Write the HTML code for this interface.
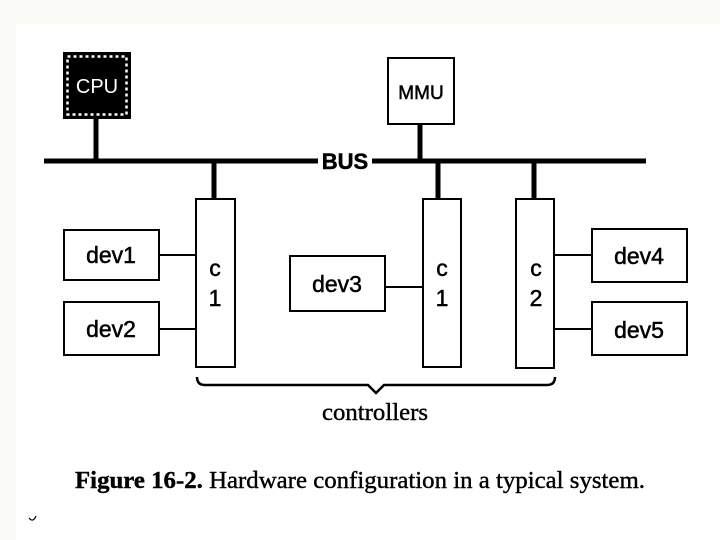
<!DOCTYPE html>
<html><head><style>html,body{margin:0;padding:0;background:#fff}svg{display:block}</style></head><body>
<svg width="720" height="540" viewBox="0 0 720 540" xmlns="http://www.w3.org/2000/svg">
<rect x="0" y="0" width="720" height="540" fill="#fbfbf8"/>
<rect x="16" y="24" width="704" height="516" fill="#fff"/>
<g stroke="#000" fill="none">
<rect x="64" y="53" width="66" height="65" fill="#000" stroke-width="2"/>
<rect x="67.5" y="56.5" width="59" height="58" stroke="#fff" stroke-width="2.5" stroke-dasharray="3 3"/>
<line x1="96" y1="118" x2="96" y2="161" stroke-width="5"/>
<rect x="388" y="58" width="66" height="66" stroke-width="2" fill="#fff"/>
<line x1="420" y1="124" x2="420" y2="161" stroke-width="5"/>
<line x1="44" y1="161" x2="318" y2="161" stroke-width="5"/>
<line x1="372" y1="161" x2="646" y2="161" stroke-width="5"/>
<line x1="214" y1="161" x2="214" y2="199" stroke-width="5"/>
<line x1="438" y1="161" x2="438" y2="199" stroke-width="5"/>
<line x1="534" y1="161" x2="534" y2="199" stroke-width="5"/>
<rect x="196" y="199" width="39" height="168" stroke-width="2"/>
<rect x="423" y="199" width="38" height="168" stroke-width="2"/>
<rect x="516" y="199" width="38" height="169" stroke-width="2"/>
<rect x="64" y="230" width="95" height="50" stroke-width="2"/>
<rect x="64" y="302" width="95" height="53" stroke-width="2"/>
<rect x="290" y="256" width="95" height="55" stroke-width="2"/>
<rect x="592" y="229" width="95" height="53" stroke-width="2"/>
<rect x="592" y="302" width="95" height="53" stroke-width="2"/>
<line x1="159" y1="255" x2="196" y2="255" stroke-width="2"/>
<line x1="159" y1="329" x2="196" y2="329" stroke-width="2"/>
<line x1="385" y1="287" x2="423" y2="287" stroke-width="2"/>
<line x1="554" y1="255" x2="592" y2="255" stroke-width="2"/>
<line x1="554" y1="329" x2="592" y2="329" stroke-width="2"/>
<path d="M197 377 Q197 385 205 385 L368 385 L376 393 L384 385 L547 385 Q555 385 555 377" stroke-width="2.5"/>
<path d="M29 518 Q33 523 36 516" stroke-width="1.2"/>
</g>
<g font-family="Liberation Sans, sans-serif" text-anchor="middle" fill="#000" stroke="#000" stroke-width="0.5">
<text x="97" y="93" font-size="20" fill="#fff" stroke="none">CPU</text>
<text x="421" y="99" font-size="19">MMU</text>
<text x="345" y="169" font-size="22" font-weight="bold">BUS</text>
<text x="111" y="263" font-size="23">dev1</text>
<text x="111" y="337" font-size="23">dev2</text>
<text x="337" y="292" font-size="23">dev3</text>
<text x="639" y="264" font-size="23">dev4</text>
<text x="639" y="338" font-size="23">dev5</text>
<text x="215" y="276" font-size="23">c</text>
<text x="215" y="306" font-size="23">1</text>
<text x="442" y="276" font-size="23">c</text>
<text x="442" y="306" font-size="23">1</text>
<text x="536" y="276" font-size="23">c</text>
<text x="536" y="306" font-size="23">2</text>
</g>
<g font-family="Liberation Serif, serif" fill="#000" stroke="#000" stroke-width="0.4">
<text x="322" y="420" font-size="24" textLength="106" lengthAdjust="spacingAndGlyphs">controllers</text>
<text x="75" y="488" font-size="24" textLength="570" lengthAdjust="spacingAndGlyphs"><tspan font-weight="bold">Figure 16-2.</tspan> Hardware configuration in a typical system.</text>
</g>
</svg>
</body></html>
